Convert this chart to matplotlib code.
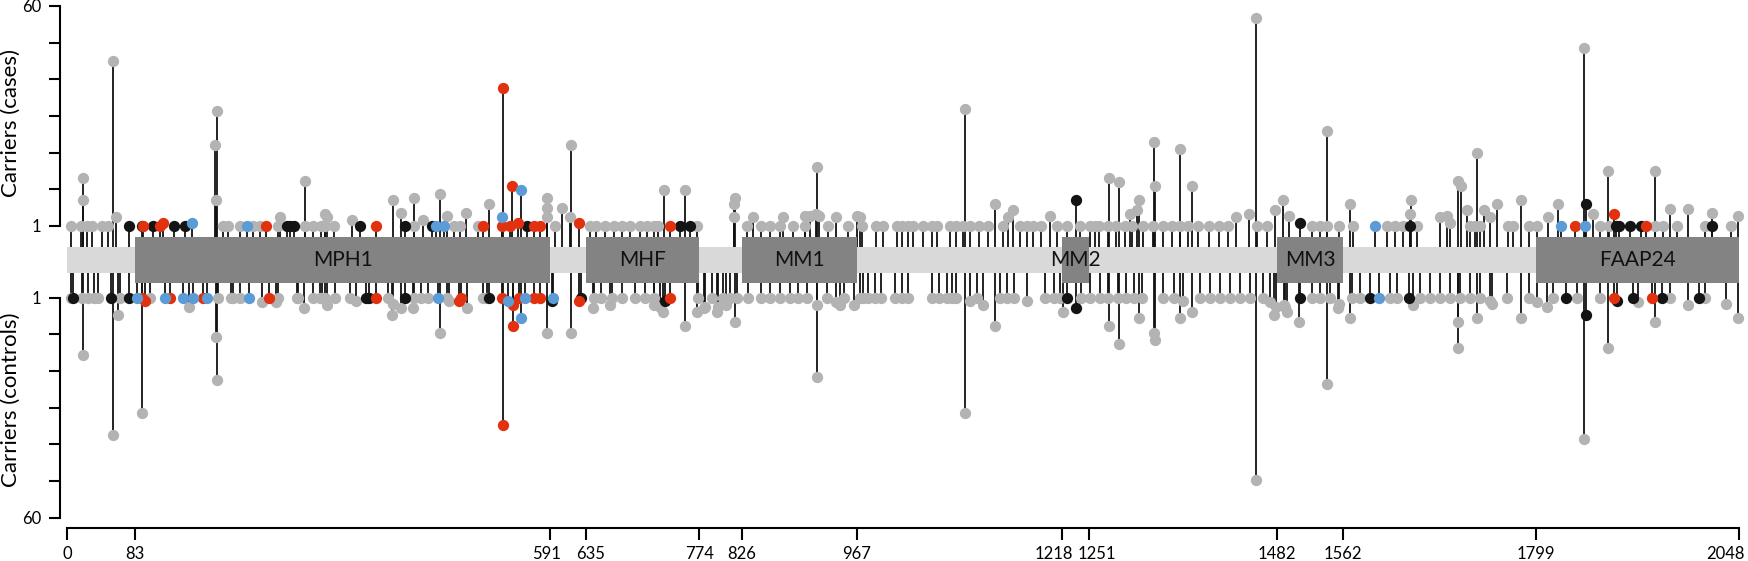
import numpy as np
import matplotlib
matplotlib.use('Agg')
import matplotlib.pyplot as plt
from matplotlib.transforms import ScaledTranslation

plt.rcParams['font.family'] = ['Lato', 'DejaVu Sans']

# ---------------- data ----------------
protein_length = 2048
domain_names = ['MPH1', 'MHF', 'MM1', 'MM2', 'MM3', 'FAAP24']
domain_start = [83, 635, 826, 1218, 1482, 1799]
domain_end = [591, 774, 967, 1251, 1562, 2048]
xtick_positions = [0, 83, 591, 635, 774, 826, 967, 1218, 1251, 1482, 1562, 1799, 2048]
ytick_labels = ['1', '', '', '', '', '', '60']

# cases (upper panel)
cases_gray_pos = [5, 17, 19, 19, 24, 30, 42, 50, 56, 60, 181, 182, 183, 191, 197, 211, 227, 236, 258, 260,
                  291, 291, 301, 311, 315, 316, 318, 326, 348, 399, 409, 424, 424, 436, 456, 465, 473, 481,
                  488, 503, 517, 587, 587, 587, 597, 606, 616, 617, 640,
                  648, 658, 669, 679, 689, 701, 710, 718, 724, 731, 757, 771, 816, 816, 818, 832, 840, 849,
                  861, 873, 877, 889, 903, 903, 909, 917, 918, 921, 932, 942, 956, 967, 973,
                  971, 991, 999, 1016, 1022, 1030, 1036, 1048, 1059, 1065, 1081, 1089, 1097, 1099, 1106,
                  1116, 1128, 1136, 1146, 1152, 1158, 1167, 1175, 1183, 1193, 1204, 1212, 1224, 1240, 1252,
                  1259, 1263, 1275, 1276, 1285, 1288, 1295, 1302,
                  1304, 1310, 1312, 1318, 1330, 1331, 1332, 1342, 1353, 1363, 1363, 1373, 1377, 1385, 1398,
                  1410, 1422, 1432, 1447, 1456, 1457, 1469, 1479, 1489, 1496, 1524, 1534, 1543, 1543, 1557,
                  1571, 1575, 1616, 1626, 1636,
                  1645, 1646, 1653, 1681, 1690, 1694, 1703, 1707, 1714, 1718, 1724, 1727, 1730, 1735, 1743,
                  1751, 1765, 1771, 1780, 1790, 1800, 1814, 1826, 1858, 1869, 1877, 1887, 1888, 1945, 1945,
                  1955, 1963, 1971, 1985, 2006, 2015, 2038, 2046]
cases_gray_n = [1, 1, 3.2, 2.0, 1, 1, 1, 1, 25, 1.3, 6, 2, 11, 1, 1, 1, 1, 1, 1, 1.3,
                3, 1, 1, 1, 1.4, 1, 1.3, 1, 1.2, 2, 1.45, 2.1, 1, 1.2, 2.3, 1.35, 1, 1,
                1.45, 1, 1.8, 2.1, 1.65, 1.3, 1, 1.65, 1.3, 6, 1,
                1, 1, 1, 1, 1, 1, 1, 1, 1, 2.5, 2.5, 1, 1.3, 1.8, 2.1, 1, 1.3, 1,
                1, 1, 1.3, 1, 1.35, 1, 1.35, 1.4, 4, 1.35, 1, 1.3, 1, 1.35, 1,
                1.3, 1, 1, 1, 1, 1, 1, 1, 1, 1, 1, 1, 1, 11.3, 1,
                1, 1, 1.8, 1, 1.3, 1.55, 1, 1, 1, 1, 1.35, 1, 1, 1, 1,
                1, 1, 1, 3.2, 1, 2.95, 1, 1.4,
                1, 1.55, 2.0, 1, 1, 6.4, 2.7, 1, 1, 1, 5.6, 1, 2.7, 1, 1,
                1, 1, 1.3, 1.4, 50, 1, 1, 1.55, 2.0, 1.35, 1, 1, 1, 7.75, 1,
                1.8, 1, 1, 1, 1,
                1.4, 2.0, 1, 1.3, 1.35, 1.1, 3.0, 2.7, 1.55, 1, 1, 5.2, 1, 1.55, 1.3,
                1.8, 1, 1, 2.0, 1, 1, 1.3, 1.8, 31, 1.4, 1, 3.7, 1, 3.7, 1,
                1, 1.6, 1, 1.6, 1, 1.45, 1, 1.35]
cases_black_pos = [75, 91, 105, 130, 144, 269, 273, 277, 358, 413, 446, 563, 750, 762, 1235, 1510,
                   1644, 1860, 1897, 1901, 1914, 1927, 2015]
cases_black_n = [1, 1, 1, 1, 1, 1, 1, 1, 1, 1, 1, 1, 1, 1, 2.0, 1.1,
                 1, 1.8, 1, 1, 1, 1, 1]
cases_red_pos = [93, 113, 117, 243, 378, 509, 532, 533, 542, 545, 552, 571, 579, 627, 738, 1847, 1894, 1933]
cases_red_n = [1, 1, 1.1, 1, 1, 1, 1, 16, 1, 2.7, 1.1, 1, 1, 1.1, 1, 1, 1.4, 1]
cases_blue_pos = [153, 220, 452, 461, 532, 555, 1602, 1829, 1859]
cases_blue_n = [1.1, 1, 1, 1, 1.3, 2.5, 1, 1, 1]

# controls (lower panel)
controls_gray_pos = [5, 18, 19, 25, 32, 38, 56, 62, 64, 91, 101, 149, 182, 183, 185, 201, 203, 211, 238, 256,
                     258, 281, 283, 290, 301, 309, 312,
                     316, 318, 328, 346, 354, 393, 398, 399, 409, 423, 424, 433, 442, 456, 465, 467, 489,
                     509, 514, 588, 617, 644,
                     645, 654, 665, 667, 679, 695, 708, 718, 719, 726, 730, 757, 771, 773, 780, 781, 789,
                     796, 797, 803, 807, 812, 818, 820, 834, 849, 861, 873, 885, 895, 906, 918, 918, 930,
                     942, 946, 951, 964, 971,
                     975, 981, 989, 997, 1014, 1022, 1030, 1059, 1067, 1077, 1083, 1089, 1099, 1106, 1114,
                     1121, 1136, 1142, 1151, 1159, 1175, 1197, 1208, 1216, 1220, 1242, 1253, 1265, 1275,
                     1276, 1287, 1288, 1297,
                     1306, 1312, 1316, 1331, 1332, 1342, 1355, 1363, 1367, 1377, 1387, 1400, 1412, 1424,
                     1436, 1449, 1456, 1465, 1473, 1478, 1481, 1490, 1491, 1494, 1509, 1524, 1534, 1543,
                     1547, 1556, 1557, 1571, 1573, 1583, 1620, 1628,
                     1648, 1657, 1669, 1681, 1694, 1703, 1703, 1706, 1718, 1727, 1730, 1743, 1745, 1763,
                     1780, 1790, 1800, 1812, 1820, 1849, 1858, 1877, 1887, 1924, 1945, 1963, 1985, 2006,
                     2032, 2046]
controls_gray_n = [1, 1, 3.9, 1, 1, 1, 16, 1.6, 1, 11, 1, 1.3, 2.7, 6.2, 1, 1, 1, 1, 1.15, 1.15,
                   1, 1, 1, 1.35, 1, 1, 1,
                   1, 1.25, 1, 1, 1.1, 1, 1.6, 1.2, 1.35, 1.35, 1, 1, 1, 2.45, 1, 1.1, 1.35,
                   1, 1, 2.45, 2.45, 1.35,
                   1, 1, 1.25, 1, 1, 1, 1, 1, 1.25, 1.3, 1.5, 2.1, 1.5, 1, 1.35, 1.3, 1,
                   1.5, 1.3, 1, 1.25, 1, 1.9, 1, 1, 1, 1, 1, 1, 1, 1, 1.25, 5.9, 1,
                   1.15, 1.25, 1, 1.25, 1,
                   1, 1, 1, 1, 1, 1, 1, 1, 1, 1, 1, 1, 11, 1.1, 1,
                   1.25, 2.1, 1, 1, 1, 1.1, 1, 1, 1, 1.5, 1, 1, 1, 1,
                   2.1, 1, 3.1, 1,
                   1, 1.75, 1, 2.45, 2.85, 1, 1, 1.75, 1.1, 1.5, 1, 1, 1, 1,
                   1, 1, 33, 1, 1.15, 1.6, 1.3, 1.25, 1.3, 1.5, 1.9, 1, 1, 6.7,
                   1, 1.35, 1.2, 1.75, 1, 1, 1, 1,
                   1.25, 1, 1, 1, 1, 3.4, 1.9, 1, 1, 1.75, 1, 1.1, 1.2, 1,
                   1.75, 1, 1.15, 1.3, 1, 1, 17, 1, 3.4, 1.15, 1.9, 1, 1.25, 1,
                   1.2, 1.75]
controls_black_pos = [7, 54, 75, 366, 369, 413, 516, 593, 629, 732, 1224, 1235, 1510, 1595, 1643, 1835,
                      1860, 1898, 1918, 1953, 1998]
controls_black_n = [1, 1, 1, 1, 1, 1, 1, 1.1, 1, 1.1, 1, 1.35, 1, 1, 1, 1,
                    1.6, 1.1, 1, 1, 1]
controls_red_pos = [91, 95, 126, 166, 247, 378, 480, 482, 532, 533, 546, 546, 553, 571, 579, 627, 738,
                    1894, 1941]
controls_red_n = [1, 1.1, 1, 1, 1, 1, 1.1, 1, 1, 13.5, 2.1, 1.25, 1, 1, 1, 1.1, 1,
                  1, 1]
controls_blue_pos = [85, 120, 142, 154, 171, 222, 454, 540, 556, 561, 595, 1607]
controls_blue_n = [1, 1, 1, 1, 1, 1, 1, 1.1, 1.75, 1, 1, 1]

# ---------------- style ----------------
C_GRAY = '#b3b3b3'
C_BLACK = '#141414'
C_RED = '#e2310f'
C_BLUE = '#5b9bd6'
C_STEM = '#111111'
C_BAR = '#d9d9d9'
C_BOX = '#838383'

W, H = 1749, 561
fig = plt.figure(figsize=(W / 100, H / 100), dpi=100)


def fx(px):
    return px / W


def fy(px):
    return 1 - px / H


left_px, right_px = 59.5, 1745.0
x0_px, x1_px = 67.4, 1739.4
ppu = (x1_px - x0_px) / protein_length
xlim = (-(x0_px - left_px) / ppu, protein_length + (right_px - x1_px) / ppu)

fwd = lambda c: np.log(np.asarray(c, dtype=float) + 1)
inv = lambda t: np.exp(np.asarray(t, dtype=float)) - 1
tick_vals = [float(inv(np.log(2) + k / 6 * (np.log(61) - np.log(2)))) for k in range(7)]
t_per_px = (np.log(61) - np.log(2)) / 220.0

# axes rectangles (pixels from top)
top_t, top_b = 6.0, 246.7
mid_t, mid_b = 237.3, 282.7
bot_t, bot_b = 273.3, 517.7

ax_top = fig.add_axes([fx(left_px), fy(top_b), fx(right_px - left_px), (top_b - top_t) / H])
ax_bot = fig.add_axes([fx(left_px), fy(bot_b), fx(right_px - left_px), (bot_b - bot_t) / H])
ax_mid = fig.add_axes([fx(left_px), fy(mid_b), fx(right_px - left_px), (mid_b - mid_t) / H])
ax_mid.set_zorder(5)

top_base = float(inv(np.log(61) - (top_b - top_t) * t_per_px))
bot_base = float(inv(np.log(61) - (bot_b - bot_t) * t_per_px))

panels = [
    (ax_top, top_base, (top_base, 60),
     [(cases_gray_pos, cases_gray_n, C_GRAY), (cases_black_pos, cases_black_n, C_BLACK),
      (cases_red_pos, cases_red_n, C_RED), (cases_blue_pos, cases_blue_n, C_BLUE)]),
    (ax_bot, bot_base, (60, bot_base),
     [(controls_gray_pos, controls_gray_n, C_GRAY), (controls_black_pos, controls_black_n, C_BLACK),
      (controls_red_pos, controls_red_n, C_RED), (controls_blue_pos, controls_blue_n, C_BLUE)]),
]

for ax, base, ylim, groups in panels:
    ax.set_yscale('function', functions=(fwd, inv))
    ax.set_xlim(*xlim)
    ax.set_ylim(*ylim)
    ax.patch.set_alpha(0)
    for pos, n, col in groups:
        ax.vlines(pos, base, n, color=C_STEM, lw=1.3, zorder=1)
    for z, (pos, n, col) in enumerate(groups):
        ax.scatter(pos, n, s=66, color=col, linewidths=0, zorder=3 + z, clip_on=False)
    for s in ['top', 'right']:
        ax.spines[s].set_visible(False)
    ax.spines['left'].set_bounds(1, 60)
    ax.spines['left'].set_linewidth(1.5)
    ax.set_yticks(tick_vals)
    ax.set_yticklabels(ytick_labels)
    ax.yaxis.set_minor_locator(matplotlib.ticker.NullLocator())
    ax.tick_params(axis='y', length=8, width=1.5, labelsize=12, pad=5)

ax_top.spines['bottom'].set_visible(False)
ax_top.set_xticks([])

ax_bot.spines['bottom'].set_position(('outward', 7.6))
ax_bot.spines['bottom'].set_bounds(0, protein_length)
ax_bot.spines['bottom'].set_linewidth(1.5)
ax_bot.set_xticks(xtick_positions)
ax_bot.set_xticklabels([str(v) for v in xtick_positions])
ax_bot.tick_params(axis='x', length=8.5, width=1.5, labelsize=12, pad=4)
label_nudge_px = {591: -3, 635: 5, 1218: -8, 1251: 8, 2048: -14}
for lab, v in zip(ax_bot.get_xticklabels(), xtick_positions):
    if v in label_nudge_px:
        lab.set_transform(lab.get_transform() +
                          ScaledTranslation(label_nudge_px[v] / 100, 0, fig.dpi_scale_trans))

# domain track
ax_mid.set_xlim(*xlim)
ax_mid.set_ylim(0, 1)
ax_mid.axis('off')
bar_h = (273.3 - 246.7) / (mid_b - mid_t)
ax_mid.barh(0.5, protein_length, left=0, height=bar_h, color=C_BAR, linewidth=0)
ax_mid.barh([0.5] * len(domain_names), np.array(domain_end) - np.array(domain_start),
            left=domain_start, height=1.0, color=C_BOX, linewidth=0)
for name, s, e in zip(domain_names, domain_start, domain_end):
    ax_mid.text((s + e) / 2, 0.5, name, ha='center', va='center', fontsize=15, color='#111111')

fig.text(fx(11), fy(123), 'Carriers (cases)', rotation=90, ha='center', va='center', fontsize=16)
fig.text(fx(11), fy(400), 'Carriers (controls)', rotation=90, ha='center', va='center', fontsize=16)

fig.savefig('out.png', dpi=100)
